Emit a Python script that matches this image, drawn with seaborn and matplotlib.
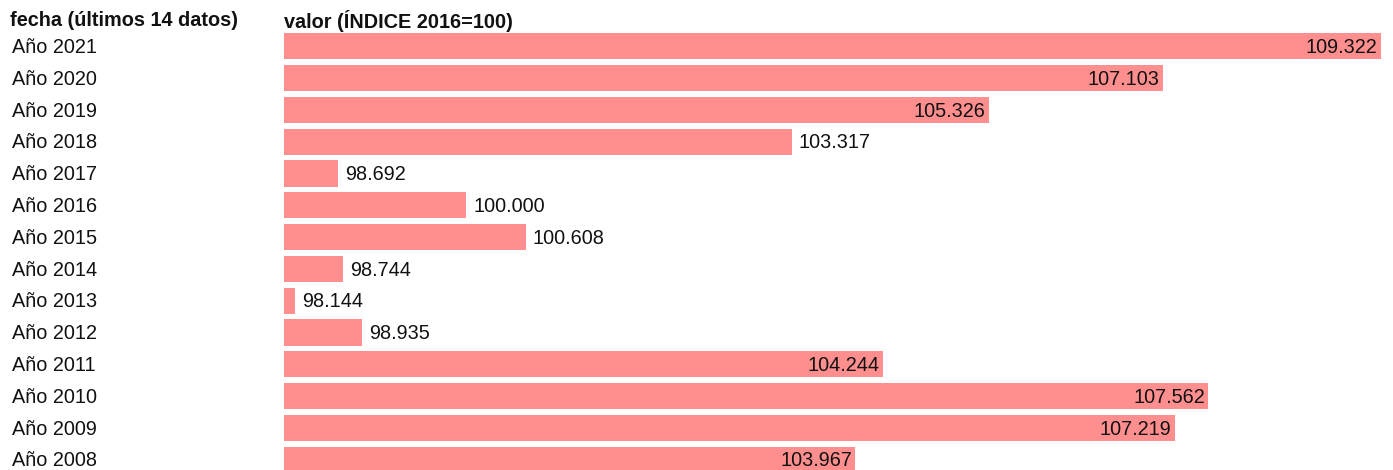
import numpy as np
import pandas as pd
import matplotlib
matplotlib.use("Agg")
import matplotlib.pyplot as plt
import matplotlib.transforms as mtransforms
import seaborn as sns

# ---- data ----
categories = ["Año 2021", "Año 2020", "Año 2019", "Año 2018", "Año 2017", "Año 2016",
              "Año 2015", "Año 2014", "Año 2013", "Año 2012", "Año 2011", "Año 2010",
              "Año 2009", "Año 2008"]
values = [109.322, 107.103, 105.326, 103.317, 98.692, 100.000, 100.608, 98.744,
          98.144, 98.935, 104.244, 107.562, 107.219, 103.967]
value_labels = ["109.322", "107.103", "105.326", "103.317", "98.692", "100.000", "100.608",
                "98.744", "98.144", "98.935", "104.244", "107.562", "107.219", "103.967"]
header_left = "fecha (últimos 14 datos)"
header_right = "valor (ÍNDICE 2016=100)"

sns.set_theme(style="white")
plt.rcParams["font.family"] = ["Liberation Sans", "DejaVu Sans"]

W, H = 1393, 470
fig = plt.figure(figsize=(W / 100, H / 100), dpi=100)

base = min(values)
span = max(values) - base
min_len = span * 0.01
lengths = np.maximum(np.array(values) - base, min_len)
df = pd.DataFrame({"cat": categories, "len": lengths, "lab": value_labels})

ax_left, ax_right = 284, 1381
row_pitch = 31.8
first_center = 46.3
top_px = first_center - row_pitch / 2
bot_px = first_center + (len(categories) - 0.5) * row_pitch
ax = fig.add_axes([ax_left / W, 1 - bot_px / H, (ax_right - ax_left) / W, (bot_px - top_px) / H])

sns.barplot(data=df, x="len", y="cat", orient="h", color="#ff8f8f", saturation=1,
            width=0.82, ax=ax, edgecolor="none")
ax.set_xlim(0, span)
ax.set_ylim(len(categories) - 0.5, -0.5)
ax.set_axis_off()

txt_color = "#111111"
fs = 14.3
px = 1 / (ax_right - ax_left) * span  # data units per pixel
dy = 1.2 / row_pitch  # small downward nudge in row units
for i, (ln, lab) in enumerate(zip(lengths, value_labels)):
    if ln > span * 0.5:
        ax.text(ln - 3.5 * px, i + dy, lab, ha="right", va="center", fontsize=fs, color=txt_color)
    else:
        ax.text(ln + 7 * px, i + dy, lab, ha="left", va="center", fontsize=fs, color=txt_color)

trans = mtransforms.blended_transform_factory(fig.transFigure, ax.transData)
for i, c in enumerate(categories):
    ax.text(12 / W, i + dy, c, ha="left", va="center", fontsize=fs, color=txt_color,
            transform=trans, clip_on=False)

fig.text(10 / W, 1 - 20.5 / H, header_left, ha="left", va="center", fontsize=fs,
         fontweight="bold", color=txt_color)
fig.text(284 / W, 1 - 20.5 / H, header_right, ha="left", va="center", fontsize=fs,
         fontweight="bold", color=txt_color)

fig.savefig("out.png", dpi=100)
